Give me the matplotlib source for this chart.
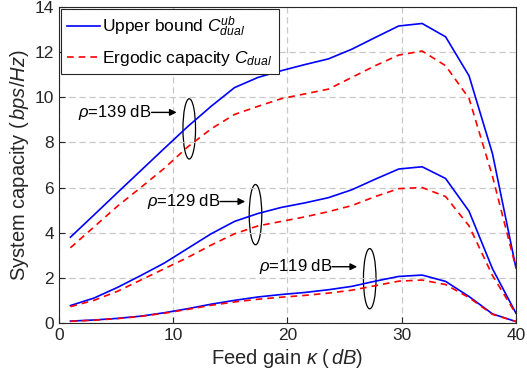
import numpy as np
import matplotlib
matplotlib.use('Agg')
import matplotlib.pyplot as plt
from matplotlib.patches import Ellipse

plt.rcParams['font.family'] = ['Liberation Sans', 'DejaVu Sans']
plt.rcParams['mathtext.fontset'] = 'custom'
plt.rcParams['mathtext.rm'] = 'Liberation Sans'
plt.rcParams['mathtext.it'] = 'Liberation Sans:italic'
plt.rcParams['mathtext.fallback'] = 'cm'

kappa = np.linspace(1, 40, 20)

# rho = 139 dB
ub_139 = [3.8, 4.78, 5.77, 6.75, 7.73, 8.7, 9.6, 10.43, 10.88, 11.18,
          11.45, 11.7, 12.13, 12.65, 13.16, 13.27, 12.68, 10.95, 7.5, 2.44]
erg_139 = [3.33, 4.25, 5.17, 6.0, 6.85, 7.8, 8.6, 9.24, 9.6, 9.94,
           10.15, 10.36, 10.88, 11.4, 11.87, 12.05, 11.4, 9.95, 6.5, 2.44]
# rho = 129 dB
ub_129 = [0.77, 1.1, 1.57, 2.1, 2.65, 3.3, 3.95, 4.5, 4.85, 5.12,
          5.32, 5.55, 5.9, 6.37, 6.82, 6.92, 6.4, 4.95, 2.4, 0.43]
erg_129 = [0.72, 1.0, 1.4, 1.9, 2.4, 2.9, 3.45, 3.95, 4.3, 4.5,
           4.7, 4.93, 5.2, 5.6, 5.95, 6.0, 5.6, 4.3, 2.1, 0.4]
# rho = 119 dB
ub_119 = [0.08, 0.13, 0.2, 0.3, 0.45, 0.63, 0.83, 1.0, 1.15, 1.26,
          1.35, 1.47, 1.62, 1.85, 2.06, 2.12, 1.84, 1.17, 0.4, 0.06]
erg_119 = [0.07, 0.12, 0.19, 0.29, 0.43, 0.6, 0.78, 0.93, 1.05, 1.14,
           1.22, 1.32, 1.45, 1.65, 1.85, 1.9, 1.7, 1.12, 0.38, 0.06]

fig = plt.figure(figsize=(5.27, 3.9), dpi=100)
ax = fig.add_axes([0.112, 0.172, 0.867, 0.81])

blue = '#0000ff'
red = '#ff0000'
dash = (0, (4, 3))
ax.plot(kappa, ub_139, color=blue, lw=1.2, label=r'Upper bound $C_{dual}^{ub}$')
ax.plot(kappa, erg_139, color=red, lw=1.2, ls=dash,
        label=r'Ergodic capacity $C_{dual}$')
ax.plot(kappa, ub_129, color=blue, lw=1.2)
ax.plot(kappa, erg_129, color=red, lw=1.2, ls=dash)
ax.plot(kappa, ub_119, color=blue, lw=1.2)
ax.plot(kappa, erg_119, color=red, lw=1.2, ls=dash)

# annotations: text, arrow start/end x, y, ellipse centre
notes = [(r'$\rho$=139 dB', 8.1, 10.3, 9.33, (11.4, 8.6)),
         (r'$\rho$=129 dB', 14.1, 16.3, 5.38, (17.2, 4.8)),
         (r'$\rho$=119 dB', 23.9, 26.1, 2.49, (27.2, 1.96))]
for txt, x0, x1, ty, ctr in notes:
    ax.annotate('', xy=(x1, ty), xytext=(x0, ty),
                arrowprops=dict(arrowstyle='-|>', color='k', lw=1,
                                mutation_scale=10, shrinkA=0, shrinkB=0))
    ax.text(x0, ty, txt, fontsize=12, ha='right', va='center')
    ax.add_patch(Ellipse(ctr, 1.1, 2.67, fill=False, ec='k', lw=0.9))

ax.set_xlim(0, 40)
ax.set_ylim(0, 14)
ax.set_xticks([0, 10, 20, 30, 40])
ax.set_yticks(range(0, 15, 2))
ax.grid(True, ls=(0, (5, 3)), color='#c8c8c8', lw=0.9)
ax.tick_params(direction='in', labelsize=12.5, colors='#262626', length=4)
for s in ax.spines.values():
    s.set_color('#262626')
    s.set_linewidth(0.8)

ax.set_xlabel(r'Feed gain $\kappa$ ($\,dB$)', fontsize=14.5, color='#262626',
              labelpad=3)
ax.set_ylabel(r'System capacity ($\,bps/Hz$)', fontsize=14.5, color='#262626',
              labelpad=3)

leg = ax.legend(loc='upper left', fontsize=12.5, fancybox=False,
                edgecolor='#262626', framealpha=1, borderaxespad=0.1,
                handlelength=1.9, handletextpad=0.15, borderpad=0.35,
                labelspacing=0.55)
leg.get_frame().set_linewidth(0.8)

fig.savefig('out.png', dpi=100)
